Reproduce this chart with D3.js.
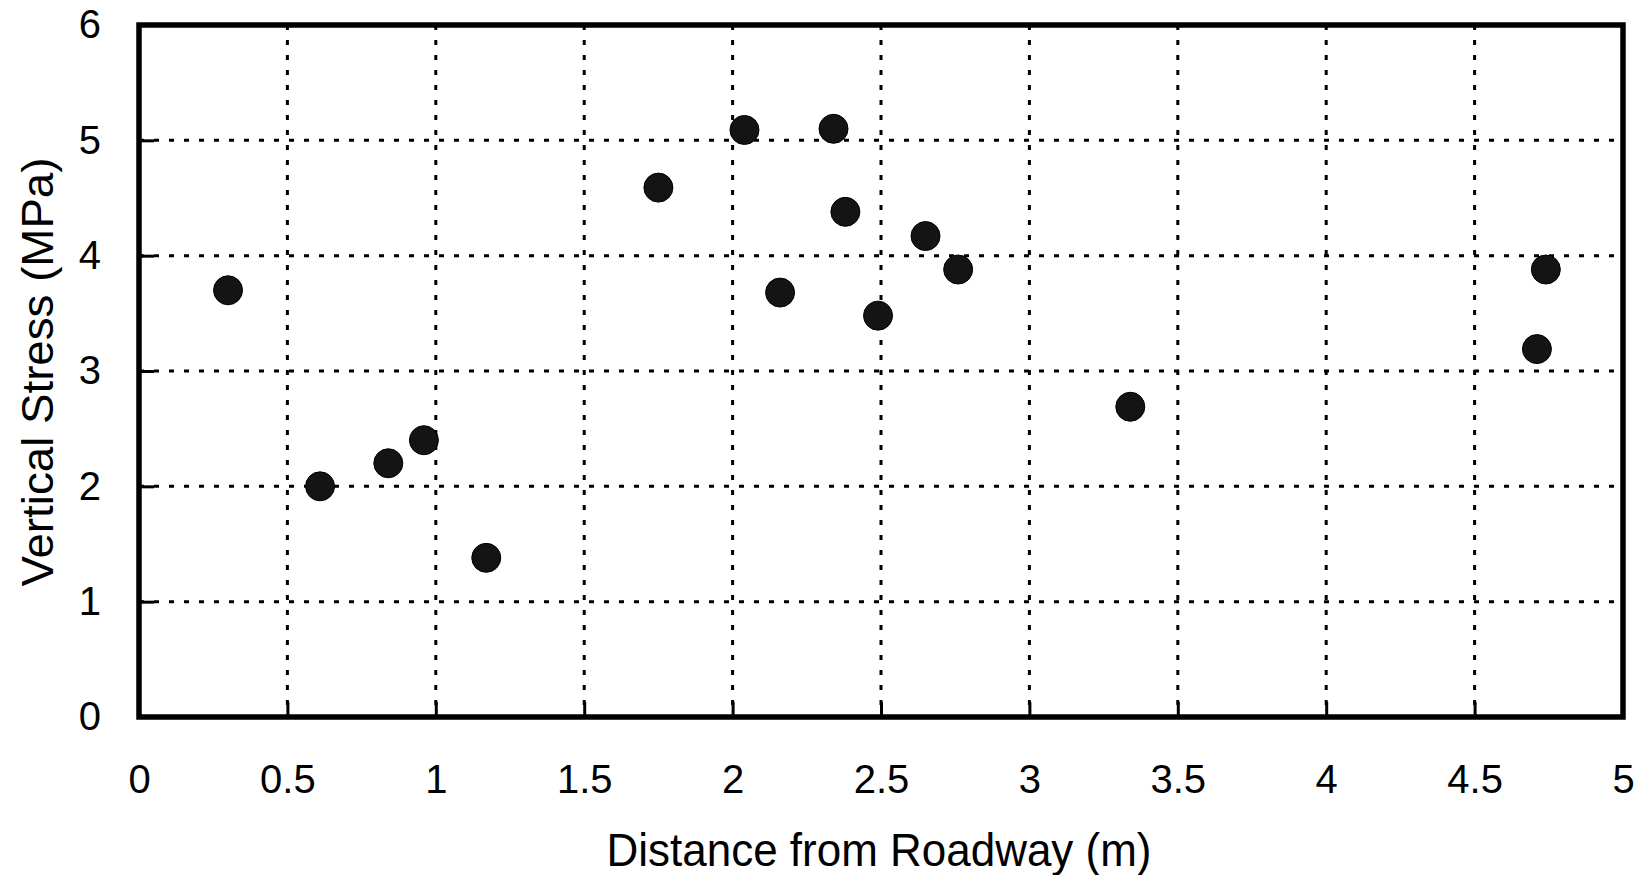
<!DOCTYPE html>
<html>
<head>
<meta charset="utf-8">
<script src="https://cdn.jsdelivr.net/npm/d3@7"></script>
<style>
  html, body { margin: 0; padding: 0; background: #fff; }
  text { font-family: "Liberation Sans", Arial, sans-serif; fill: #000; }
</style>
</head>
<body>
<div id="chart"></div>
<script>
// readings
var distance = [0.30, 0.61, 0.84, 0.96, 1.17, 1.75, 2.04, 2.16, 2.34, 2.38, 2.49, 2.65, 2.76, 3.34, 4.71, 4.74];
var stress   = [3.70, 2.00, 2.20, 2.40, 1.38, 4.59, 5.09, 3.68, 5.10, 4.38, 3.48, 4.17, 3.88, 2.69, 3.19, 3.88];
var xTicks = [0, 0.5, 1, 1.5, 2, 2.5, 3, 3.5, 4, 4.5, 5];
var yTicks = [0, 1, 2, 3, 4, 5, 6];
var xTitle = "Distance from Roadway (m)";
var yTitle = "Vertical Stress (MPa)";

var W = 1642, H = 875;
var margin = { top: 25, right: 19, bottom: 158, left: 139 },
    width = W - margin.left - margin.right,
    height = H - margin.top - margin.bottom;

var x = d3.scaleLinear().domain([0, 5]).range([0, width]);
var y = d3.scaleLinear().domain([0, 6]).range([height, 0]);

var svg = d3.select("#chart")
    .append("svg")
    .attr("width", W)
    .attr("height", H)
    .append("g")
    .attr("transform", "translate(" + margin.left + "," + margin.top + ")");

// dotted grid
svg.selectAll(".vgrid")
    .data(xTicks.slice(1, -1))
    .enter().append("line")
    .attr("x1", d => x(d)).attr("x2", d => x(d))
    .attr("y1", 0).attr("y2", height)
    .attr("stroke", "#000")
    .attr("stroke-width", 3)
    .attr("stroke-dasharray", "5,10");

svg.selectAll(".hgrid")
    .data(yTicks.slice(1, -1))
    .enter().append("line")
    .attr("x1", 0).attr("x2", width)
    .attr("y1", d => y(d)).attr("y2", d => y(d))
    .attr("stroke", "#000")
    .attr("stroke-width", 3)
    .attr("stroke-dasharray", "5,10");

// axes with inward ticks
var gx = svg.append("g")
    .attr("transform", "translate(0," + height + ")")
    .call(d3.axisBottom(x).tickValues(xTicks).tickFormat(d => d).tickSize(-15).tickPadding(48));
var gy = svg.append("g")
    .call(d3.axisLeft(y).tickValues(yTicks).tickFormat(d => d).tickSize(-15).tickPadding(38));

[gx, gy].forEach(function(g) {
    g.select(".domain").remove();
    g.selectAll("line").attr("stroke", "#000").attr("stroke-width", 3);
    g.selectAll("text")
        .style("font-family", "'Liberation Sans', Arial, sans-serif")
        .style("font-size", "40px")
        .attr("fill", "#000");
});

// frame
svg.append("rect")
    .attr("x", 0).attr("y", 0)
    .attr("width", width).attr("height", height)
    .attr("fill", "none")
    .attr("stroke", "#000")
    .attr("stroke-width", 5.5);

// points
svg.selectAll(".dot")
    .data(distance.map((d, i) => ({ x: d, y: stress[i] })))
    .enter().append("circle")
    .attr("cx", d => x(d.x))
    .attr("cy", d => y(d.y))
    .attr("r", 14.5)
    .attr("fill", "#141414")
    .attr("stroke", "#000")
    .attr("stroke-width", 1);

// axis titles
d3.select("svg").append("text")
    .attr("x", 879)
    .attr("y", 866)
    .attr("text-anchor", "middle")
    .attr("textLength", 545)
    .attr("lengthAdjust", "spacingAndGlyphs")
    .style("font-size", "47px")
    .text(xTitle);

d3.select("svg").append("text")
    .attr("transform", "translate(53,372) rotate(-90)")
    .attr("text-anchor", "middle")
    .attr("textLength", 429)
    .attr("lengthAdjust", "spacingAndGlyphs")
    .style("font-size", "44px")
    .text(yTitle);
</script>
</body>
</html>
